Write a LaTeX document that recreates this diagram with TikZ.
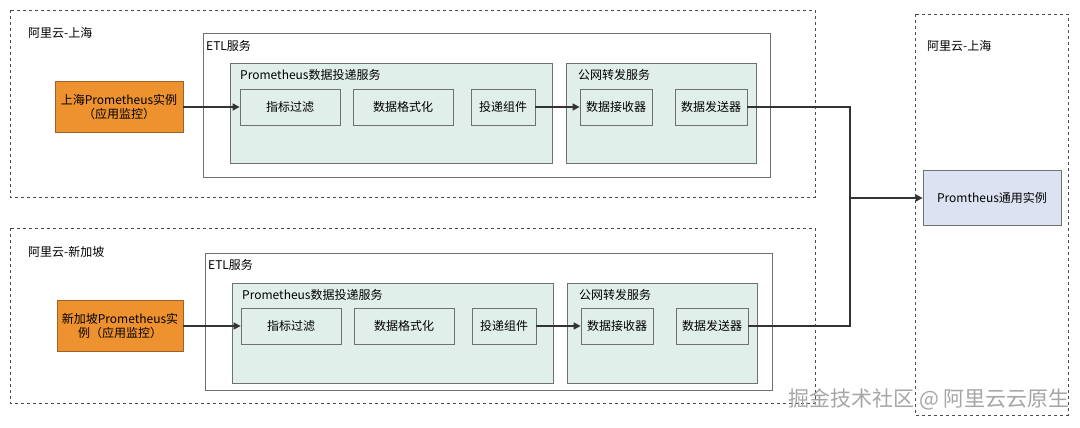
\documentclass[tikz,border=0pt]{standalone}
\usepackage{fontspec}
\setmainfont{Noto Sans CJK SC}
\usetikzlibrary{arrows.meta}
\definecolor{orng}{HTML}{EE922F}
\definecolor{orngb}{HTML}{A0602A}
\definecolor{grn}{HTML}{E0EFEA}
\definecolor{bx}{HTML}{707070}
\definecolor{blu}{HTML}{DCE2F2}
\begin{document}
\begin{tikzpicture}[x=1pt,y=-1pt,
 every node/.style={font=\fontsize{12}{14}\selectfont,inner sep=0},
 region/.style={draw=black!70,dashed,line width=0.6pt},
 etl/.style={draw=bx,fill=white,line width=0.8pt},
 grp/.style={draw=bx,fill=grn,line width=0.8pt},
 sub/.style={draw=bx,fill=grn,line width=0.8pt},
 orangebox/.style={draw=orngb,fill=orng,line width=0.8pt,align=center},
 lbl/.style={anchor=west},
 arr/.style={-{Triangle[length=7pt,width=7pt]},line width=1.5pt,color=black!80}]
\useasboundingbox (0,0) rectangle (1080,428);
\fill[white] (0,0) rectangle (1080,428);
% regions
\draw[region] (10,10) rectangle (815,197);
\node[lbl] at (28,33) {阿里云-上海};
\draw[region] (10,228) rectangle (815,403);
\node[lbl] at (28,252) {阿里云-新加坡};
\draw[region] (915,14) rectangle (1068,415);
\node[lbl] at (927,46) {阿里云-上海};
% top
\draw[etl] (203,33) rectangle (770,177); \node[lbl] at (206,46) {ETL服务};
\draw[grp] (230,63) rectangle (552,163); \node[lbl] at (240,75) {Prometheus数据投递服务};
\draw[grp] (566,63) rectangle (756,163); \node[lbl] at (578,75) {公网转发服务};
\node[sub,minimum width=100pt,minimum height=36pt] (a1) at (290,107) {指标过滤};
\node[sub,minimum width=100pt,minimum height=36pt] (a2) at (403,107) {数据格式化};
\node[sub,minimum width=64pt,minimum height=36pt] (a3) at (503,107) {投递组件};
\node[sub,minimum width=72pt,minimum height=36pt] (a4) at (616,107) {数据接收器};
\node[sub,minimum width=72pt,minimum height=36pt] (a5) at (711,107) {数据发送器};
\node[orangebox,minimum width=128pt,minimum height=51pt] (o1) at (119,107) {上海Prometheus实例\\（应用监控）};
% bottom
\draw[etl] (205,253) rectangle (772,390); \node[lbl] at (208,265) {ETL服务};
\draw[grp] (232,283) rectangle (553,383); \node[lbl] at (242,295) {Prometheus数据投递服务};
\draw[grp] (567,283) rectangle (757,383); \node[lbl] at (579,295) {公网转发服务};
\node[sub,minimum width=100pt,minimum height=36pt] (b1) at (291,326) {指标过滤};
\node[sub,minimum width=100pt,minimum height=36pt] (b2) at (404,326) {数据格式化};
\node[sub,minimum width=64pt,minimum height=36pt] (b3) at (504,326) {投递组件};
\node[sub,minimum width=72pt,minimum height=36pt] (b4) at (617,326) {数据接收器};
\node[sub,minimum width=72pt,minimum height=36pt] (b5) at (712,326) {数据发送器};
\node[orangebox,minimum width=126pt,minimum height=51pt] (o2) at (120,326) {新加坡Prometheus实\\例（应用监控）};
% target
\node[draw=bx,fill=blu,line width=0.8pt,minimum width=138pt,minimum height=55pt] (t) at (992,198) {Promtheus通用实例};
% arrows
\draw[arr] (o1) -- (a1);
\draw[arr] (a3) -- (a4);
\draw[arr] (o2) -- (b1);
\draw[arr] (b3) -- (b4);
\coordinate (j) at (850,198);
\draw[line width=1.5pt,color=black!80] (a5.east) -| (j);
\draw[line width=1.5pt,color=black!80] (b5.east) -| (j);
\draw[arr] (j) -- (t);
% watermark
\node[anchor=east,font=\fontsize{21}{24}\selectfont,text=black!35] (w) at (1070,399) {掘金技术社区 @ 阿里云云原生};
\end{tikzpicture}
\end{document}
